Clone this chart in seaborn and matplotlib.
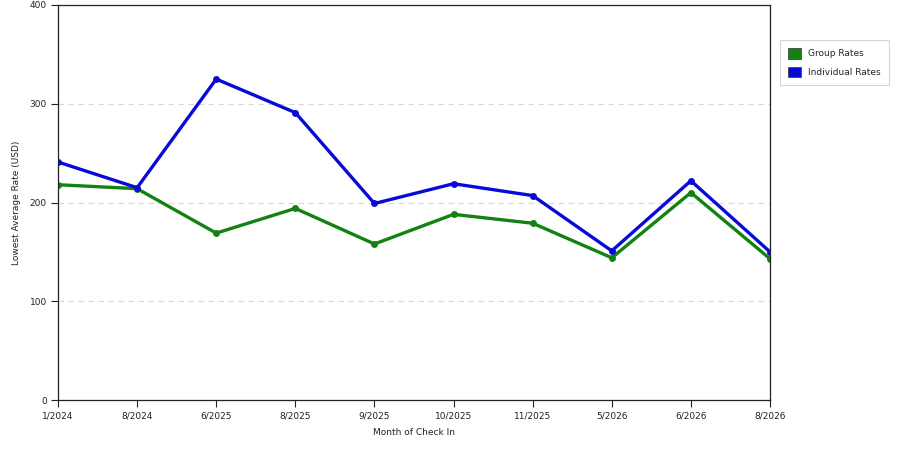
import matplotlib
matplotlib.use('Agg')
import matplotlib.pyplot as plt
import seaborn as sns
import pandas as pd
from matplotlib.patches import Patch

# ------------------- DATOS ----------------------------
months = ['1/2024', '8/2024', '6/2025', '8/2025', '9/2025', '10/2025',
          '11/2025', '5/2026', '6/2026', '8/2026']
group_rates = [218, 214, 169, 194, 158, 188, 179, 144, 210, 143]
individual_rates = [241, 215, 325, 291, 199, 219, 207, 151, 222, 150]

df = pd.DataFrame({
    'month': months * 2,
    'rate': group_rates + individual_rates,
    'serie': ['Group Rates'] * len(months) + ['Individual Rates'] * len(months),
})

colores = {'Group Rates': '#138213', 'Individual Rates': '#0a0ad8'}

# ----------- GRAFICAR ---------------------
sns.set_style('white')
plt.rcParams['font.family'] = ['DejaVu Sans']

fig = plt.figure(figsize=(9, 4.5), dpi=100)
ax = fig.add_axes([58 / 900, 50 / 450, 712 / 900, 395 / 450])

sns.lineplot(data=df, x='month', y='rate', hue='serie', palette=colores,
             marker='o', markersize=5, linewidth=2.4, markeredgewidth=0,
             sort=False, legend=False, ax=ax)

ax.set_xlim(0, len(months) - 1)
ax.set_ylim(0, 400)
ax.set_yticks([0, 100, 200, 300, 400])
ax.yaxis.grid(True, linestyle=(0, (5, 4)), color='#d8d8d8', linewidth=0.8)
ax.xaxis.grid(False)
ax.set_axisbelow(True)

for s in ax.spines.values():
    s.set_color('#222222')
    s.set_linewidth(0.9)

ax.tick_params(axis='both', which='both', direction='out', length=5, width=0.8,
               color='#222222', labelsize=6.5, labelcolor='#222222', pad=3,
               bottom=True, left=True)

ax.set_xlabel('Month of Check In', fontsize=6.5, color='#222222', labelpad=6)
ax.set_ylabel('Lowest Average Rate (USD)', fontsize=6.5, color='#222222', labelpad=6)

handles = [Patch(facecolor=colores[k], edgecolor='#333333', linewidth=0.5, label=k)
           for k in colores]
leg = fig.legend(handles=handles, loc='upper left', bbox_to_anchor=(780 / 900, 1 - 40 / 450),
                 borderaxespad=0, fontsize=6.5, frameon=True, fancybox=False,
                 handlelength=1.4, handleheight=1.4, handletextpad=0.8,
                 borderpad=0.9, labelspacing=0.9)
leg.get_frame().set_edgecolor('#cccccc')
leg.get_frame().set_linewidth(0.8)

plt.savefig('out.png', dpi=100)
